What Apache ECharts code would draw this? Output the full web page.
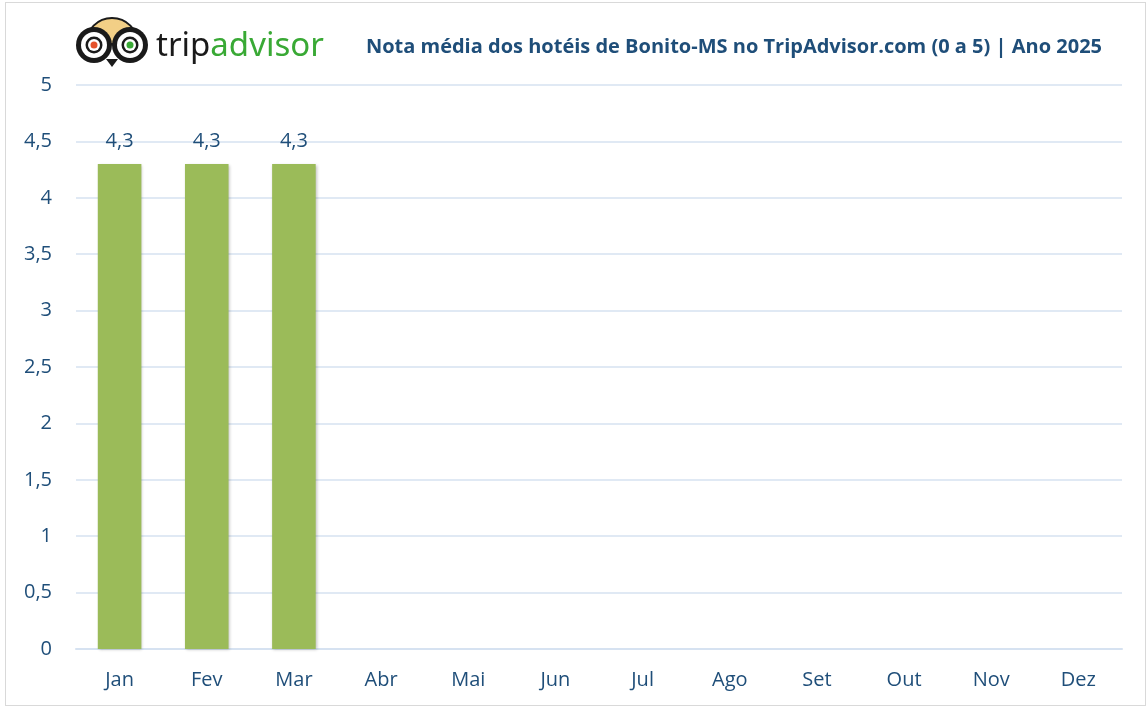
<!DOCTYPE html>
<html>
<head>
<meta charset="utf-8">
<script src="https://cdn.jsdelivr.net/npm/echarts@6/dist/echarts.min.js"></script>
<style>
  html, body { margin: 0; padding: 0; background: #fff; }
  #chart { position: absolute; left: 5px; top: 2px; width: 1141px; height: 704px; border: 1px solid #d9d9d9; box-sizing: border-box; }
</style>
</head>
<body>
<div id="chart"></div>
<script>
const months = ["Jan", "Fev", "Mar", "Abr", "Mai", "Jun", "Jul", "Ago", "Set", "Out", "Nov", "Dez"];
const ratings = [4.3, 4.3, 4.3, null, null, null, null, null, null, null, null, null];
const yTicks = [0, 0.5, 1, 1.5, 2, 2.5, 3, 3.5, 4, 4.5, 5];

const textBlue = "#1f4e79";
const fmt = (v) => String(v).replace(".", ",");

const chart = echarts.init(document.getElementById("chart"));
chart.setOption({
  animation: false,
  textStyle: { fontFamily: "Open Sans" },
  title: {
    text: "Nota média dos hotéis de Bonito-MS no TripAdvisor.com (0 a 5) | Ano 2025",
    right: 38,
    top: 29,
    textStyle: { color: textBlue, fontSize: 20, fontWeight: "bold", fontFamily: "Open Sans" },
  },
  grid: { left: 70, right: 23, top: 82, bottom: 56 },
  xAxis: {
    type: "category",
    data: months,
    axisLine: { lineStyle: { color: "#d6e2f1", width: 2 } },
    axisTick: { show: false },
    axisLabel: { color: textBlue, fontSize: 20, margin: 21 },
  },
  yAxis: {
    type: "value",
    min: 0,
    max: yTicks[yTicks.length - 1],
    interval: 0.5,
    axisLine: { show: false },
    axisTick: { show: false },
    splitLine: { lineStyle: { color: "#d6e2f1", width: 1.5 } },
    axisLabel: { color: textBlue, fontSize: 20, margin: 24, formatter: fmt },
  },
  series: [
    {
      type: "bar",
      data: ratings,
      barWidth: "50%",
      itemStyle: { color: "#9bbb59", shadowColor: "rgba(0,0,0,0.25)", shadowBlur: 3, shadowOffsetX: 1, shadowOffsetY: 1 },
      label: { show: true, position: "top", distance: 13, color: textBlue, fontSize: 20, formatter: (p) => fmt(p.value) },
    },
  ],
  graphic: [
    {
      type: "group",
      left: 70,
      top: 14,
      children: [
        { type: "sector", shape: { cx: 40, cy: 30, r0: 0, r: 26, startAngle: Math.PI, endAngle: 2 * Math.PI }, style: { fill: "#f2cf86", stroke: "#1a1a1a", lineWidth: 2 } },
        { type: "circle", shape: { cx: 22, cy: 31, r: 18 }, style: { fill: "#1a1a1a" } },
        { type: "circle", shape: { cx: 58, cy: 31, r: 18 }, style: { fill: "#1a1a1a" } },
        { type: "circle", shape: { cx: 22, cy: 31, r: 13 }, style: { fill: "#fff" } },
        { type: "circle", shape: { cx: 58, cy: 31, r: 13 }, style: { fill: "#fff" } },
        { type: "circle", shape: { cx: 22, cy: 31, r: 8.5 }, style: { fill: "#1a1a1a" } },
        { type: "circle", shape: { cx: 58, cy: 31, r: 8.5 }, style: { fill: "#1a1a1a" } },
        { type: "circle", shape: { cx: 22, cy: 31, r: 6 }, style: { fill: "#fff" } },
        { type: "circle", shape: { cx: 58, cy: 31, r: 6 }, style: { fill: "#fff" } },
        { type: "circle", shape: { cx: 22, cy: 31, r: 3.5 }, style: { fill: "#e5522b" } },
        { type: "circle", shape: { cx: 58, cy: 31, r: 3.5 }, style: { fill: "#39a935" } },
        { type: "polygon", shape: { points: [[34, 45], [46, 45], [40, 53]] }, style: { fill: "#1a1a1a" } },
        {
          type: "text",
          x: 84,
          y: 16,
          style: {
            rich: {
              a: { fill: "#1a1a1a", fontSize: 33, fontFamily: "Noto Sans" },
              b: { fill: "#39a935", fontSize: 33, fontFamily: "Noto Sans" },
            },
            text: "{a|trip}{b|advisor}",
          },
        },
      ],
    },
  ],
});
</script>
</body>
</html>
